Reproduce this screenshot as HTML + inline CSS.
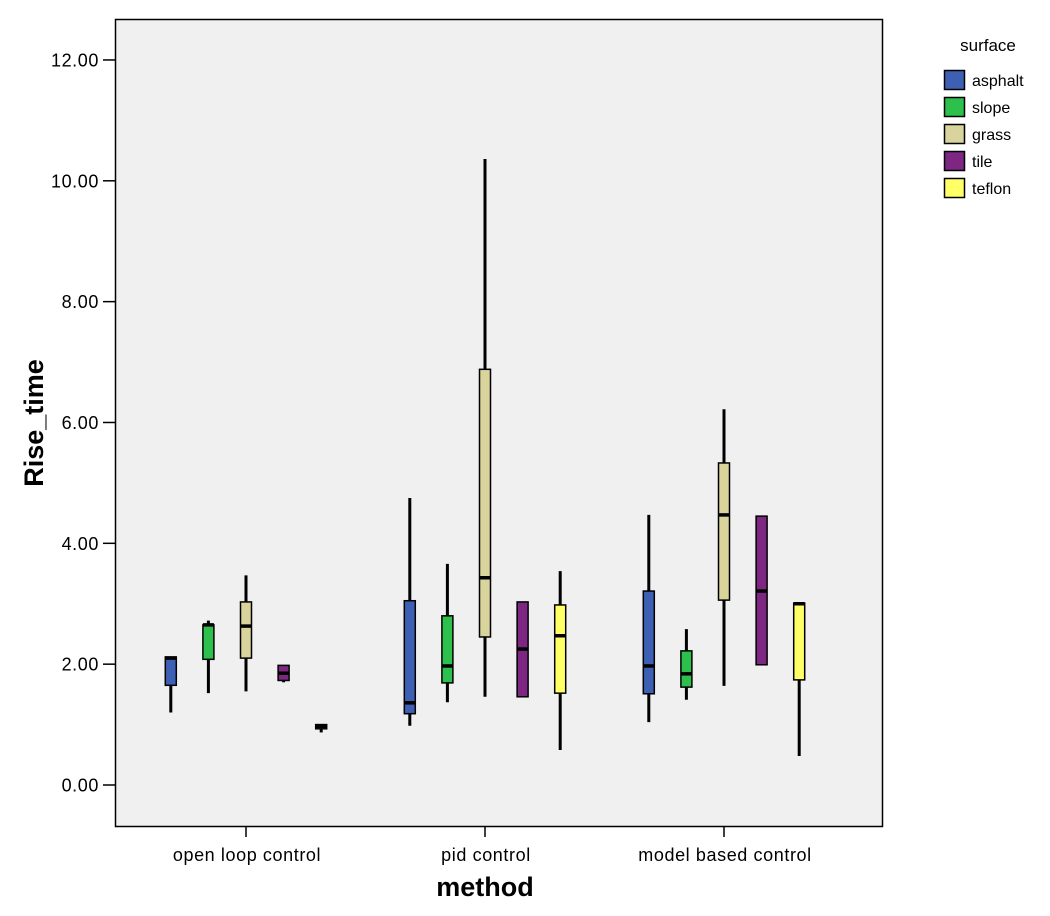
<!DOCTYPE html>
<html><head><meta charset="utf-8"><style>
body{margin:0;background:#fff;}
svg{display:block;font-family:"Liberation Sans",Arial,sans-serif;}
</style></head><body>
<svg id="chart" width="1050" height="916" viewBox="0 0 1050 916">
<rect x="115.5" y="19.5" width="767" height="807" fill="#f0f0f0" stroke="#000" stroke-width="1.5"/>
<g id="yaxis"></g>
<g id="xaxis"></g>
<g id="boxes"></g>
<text x="43" y="423" transform="rotate(-90 43 423)" text-anchor="middle" font-size="27" font-weight="bold">Rise_time</text>
<text x="485" y="896" text-anchor="middle" font-size="27" font-weight="bold">method</text>
<g id="legend">
<text x="988" y="51" text-anchor="middle" font-size="17">surface</text>
</g>
</svg>
<script>
const categories=["open loop control","pid control","model based control"];
const surfaces=["asphalt","slope","grass","tile","teflon"];
const colors=["#3d5fb4","#2ec04c","#d8d49b","#7d2782","#ffff66"];
const yTicks=[0,2,4,6,8,10,12];
const yTickLabels=["0.00","2.00","4.00","6.00","8.00","10.00","12.00"];
// [low, q1, median, q3, high] per category per surface
const asphaltStats=[[1.2,1.65,2.1,2.12,2.12],[0.98,1.18,1.36,3.05,4.75],[1.04,1.51,1.97,3.21,4.47]];
const slopeStats=[[1.52,2.08,2.65,2.65,2.72],[1.37,1.69,1.97,2.8,3.66],[1.41,1.62,1.84,2.22,2.58]];
const grassStats=[[1.55,2.1,2.63,3.03,3.47],[1.46,2.45,3.43,6.88,10.36],[1.64,3.06,4.47,5.33,6.22]];
const tileStats=[[1.7,1.73,1.85,1.98,1.98],[1.46,1.46,2.25,3.03,3.03],[1.99,1.99,3.21,4.45,4.45]];
const teflonStats=[[0.87,0.93,0.97,1.0,1.0],[0.58,1.52,2.47,2.98,3.54],[0.48,1.74,3.0,3.01,3.01]];
const allStats=[asphaltStats,slopeStats,grassStats,tileStats,teflonStats];

const NS="http://www.w3.org/2000/svg";
const y=v=>785-v*60.42;
const catX=i=>246+i*239;
const subX=(i,s)=>catX(i)+(s-2)*37.6;
function mk(tag,attrs,parent){const e=document.createElementNS(NS,tag);for(const k in attrs)e.setAttribute(k,attrs[k]);parent.appendChild(e);return e;}
const ya=document.getElementById('yaxis');
yTicks.forEach((t,i)=>{
  const l=mk('line',{x1:103,x2:115,y1:y(t),y2:y(t),stroke:'#000','stroke-width':1.5},ya);
  
  
  const tx=mk('text',{x:99,y:y(t)+6.5,'text-anchor':'end','font-size':18,'letter-spacing':0.6},ya);
  tx.textContent=yTickLabels[i];
  
  
});
const xa=document.getElementById('xaxis');
categories.forEach((c,i)=>{
  const l=mk('line',{x1:catX(i),x2:catX(i),y1:826,y2:837,stroke:'#000','stroke-width':1.5},xa);
  
  
  const tx=mk('text',{x:catX(i)+1,y:861,'text-anchor':'middle','font-size':18,'letter-spacing':0.6},xa);
  tx.textContent=c;
  
  
});
const bx=document.getElementById('boxes');
allStats.forEach((stats,s)=>{
  stats.forEach((d,i)=>{
    const cx=subX(i,s);
    const g=mk('g',{},bx);
    
    
    mk('line',{x1:cx,x2:cx,y1:y(d[0]),y2:y(d[4]),stroke:'#000','stroke-width':3},g);
    mk('rect',{x:cx-5.5,y:y(d[3]),width:11,height:Math.max(1,y(d[1])-y(d[3])),fill:colors[s],stroke:'#000','stroke-width':1.5},g);
    mk('line',{x1:cx-5.5,x2:cx+5.5,y1:y(d[2]),y2:y(d[2]),stroke:'#000','stroke-width':3.5},g);
  });
});
const lg=document.getElementById('legend');
surfaces.forEach((s,i)=>{
  const g=mk('g',{},lg);
  
  
  mk('rect',{x:944.5,y:70.5+i*27,width:20,height:19,fill:colors[i],stroke:'#000','stroke-width':1.5},g);
  const t=mk('text',{x:972,y:86+i*27,'font-size':16},g);
  t.textContent=s;
});
</script>
</body></html>
